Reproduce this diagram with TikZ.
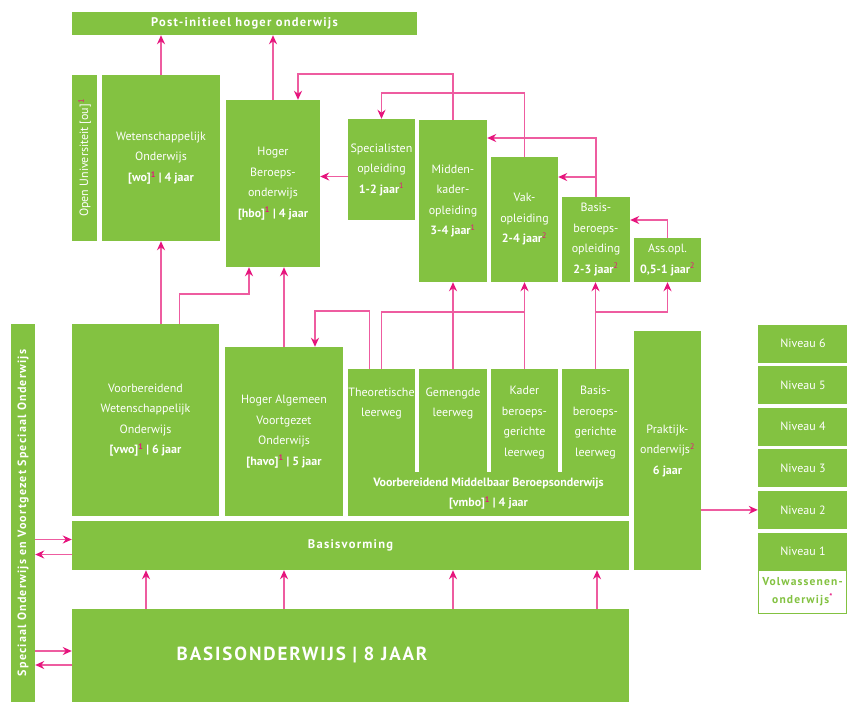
\documentclass[tikz,border=0pt]{standalone}
\usepackage{fontspec}
\usepackage{xcolor}
\usepackage{tikz}
\usetikzlibrary{arrows.meta}
\setmainfont{PT Sans}
\newfontfamily\spatie{PT Sans}[LetterSpace=10]
\definecolor{grn}{RGB}{131,194,65}
\definecolor{pk}{RGB}{238,92,160}
\definecolor{pkd}{RGB}{230,20,125}
\newcommand{\vn}[1]{\textsuperscript{\color{pkd}#1}}

\begin{document}
\begin{tikzpicture}[x=1pt, y=-1pt,
        blok/.style={fill=grn, text=white, align=center, inner sep=0pt, font=\fontsize{12}{20.5}\selectfont},
        kop/.style={text=white, align=center, font=\fontsize{12.5}{20}\selectfont\bfseries\spatie},
        lijn/.style={draw=pk, line width=1.8pt},
        pijl/.style={lijn, -{Stealth[length=9pt, width=8pt, color=pkd]}}]
        \useasboundingbox (0,0) rectangle (847,702);

        \node[blok, minimum width=345, minimum height=23, font=\fontsize{12.5}{20}\selectfont\bfseries\spatie] at (244.5,23.5) (post) {Post-initieel hoger onderwijs};
        \node[blok, minimum width=166, minimum height=25, rotate=90] at (84.5,158) (ou) {Open Universiteit [ou]\vn{1}};
        \node[blok, minimum width=118, minimum height=166] at (161,158) (wo) {Wetenschappelijk\\Onderwijs\\\textbf{[wo]\vn{1} | 4 jaar}};
        \node[blok, minimum width=94, minimum height=167] at (273,183.5) (hbo) {Hoger\\Beroeps-\\onderwijs\\\textbf{[hbo]\vn{1} | 4 jaar}};
        \node[blok, minimum width=67, minimum height=101] at (381.5,169.5) (spec) {Specialisten\\opleiding\\\textbf{1-2 jaar}\vn{1}};
        \node[blok, minimum width=68, minimum height=162] at (453,201) (mk) {Midden-\\kader-\\opleiding\\\textbf{3-4 jaar}\vn{1}};
        \node[blok, minimum width=67, minimum height=125] at (524.5,219.5) (vak) {Vak-\\opleiding\\\textbf{2-4 jaar}\vn{2}};
        \node[blok, minimum width=68, minimum height=85] at (596,239.5) (bbo) {Basis-\\beroeps-\\opleiding\\\textbf{2-3 jaar}\vn{2}};
        \node[blok, minimum width=67, minimum height=44] at (667.5,260) (ass) {Ass.opl.\\\textbf{0,5-1 jaar}\vn{2}};

        \node[blok, minimum width=147, minimum height=192] at (145.5,420) (vwo) {Voorbereidend\\Wetenschappelijk\\Onderwijs\\\textbf{[vwo]\vn{1} | 6 jaar}};
        \node[blok, minimum width=118, minimum height=169] at (284,431.5) (havo) {Hoger Algemeen\\Voortgezet\\Onderwijs\\\textbf{[havo]\vn{1} | 5 jaar}};
        \node[blok, minimum width=67, minimum height=107] at (381.5,422.5) (tl) {Theoretische\\leerweg\\~\\~};
        \node[blok, minimum width=68, minimum height=107] at (453,422.5) (gl) {Gemengde\\leerweg\\~\\~};
        \node[blok, minimum width=67, minimum height=107] at (524.5,422.5) (kl) {Kader\\beroeps-\\gerichte\\leerweg};
        \node[blok, minimum width=67, minimum height=107] at (595.5,422.5) (bl) {Basis-\\beroeps-\\gerichte\\leerweg};
        \node[blok, minimum width=281, minimum height=44, font=\fontsize{12}{20}\selectfont\bfseries] at (488.5,494) (vmbo) {Voorbereidend Middelbaar Beroepsonderwijs\\{}[vmbo]\vn{1} | 4 jaar};
        \node[blok, minimum width=67, minimum height=239] at (667.5,450.5) (pro) {Praktijk-\\onderwijs\vn{2}\\\textbf{6 jaar}};
        \node[blok, minimum width=557, minimum height=49] at (350.5,545.5) (bv) {};
        \node[kop] at (bv.center) {Basisvorming};
        \node[blok, minimum width=557, minimum height=93] at (350.5,655.5) (bao) {};
        \node[text=white, font=\fontsize{19}{20}\selectfont\bfseries\spatie] at (302,655) (baotekst) {BASISONDERWIJS | 8 JAAR};
        \node[blok, minimum width=378, minimum height=24, rotate=90, font=\fontsize{12}{19}\selectfont\bfseries\spatie] at (23,513) (so) {Speciaal Onderwijs en Voortgezet Speciaal Onderwijs};

        \foreach \n in {1,...,6}
            \node[blok, minimum width=90, minimum height=38] at (803,{551.5-41.6*(\n-1)}) (niv\n) {Niveau \n};
        \node[draw=grn, line width=1.5pt, fill=white, text=grn, align=center, inner sep=0pt, minimum width=88, minimum height=43, font=\fontsize{11.5}{18}\selectfont\bfseries\spatie] at (802.5,592) (vol) {Volwassenen-\\onderwijs\vn{*}};

        \draw[pijl] (wo.north) -- (wo.north |- post.south);
        \draw[pijl] (hbo.north) -- (hbo.north |- post.south);
        \draw[pijl] (wo.south |- vwo.north) -- (wo.south);
        \draw[pijl] ([xshift=34pt]vwo.north) -- ++(0,-30) -| ([xshift=-24pt]hbo.south);
        \draw[pijl] (havo.north) -- (havo.north |- hbo.south);
        \draw[pijl] ([yshift=-7pt]spec.west) -- ([yshift=-7pt]spec.west -| hbo.east);
        \draw[pijl] (mk.north) -- ++(0,-46) -| ([xshift=25pt]hbo.north);
        \draw[pijl] (vak.north) -- ++(0,-64) -| (spec.north);
        \draw[pijl] (bbo.north) |- ([yshift=63pt]mk.east);
        \draw[pijl] (bbo.north) |- ([yshift=42.5pt]vak.east);
        \draw[pijl] (ass.north) |- ([yshift=19.5pt]bbo.east);

        \draw[pijl] ([xshift=-12pt]tl.north) -- ++(0,-58) -| ([xshift=31pt]havo.north);
        \draw[lijn] (tl.north) |- ([yshift=57pt]kl.north);
        \draw[pijl] (gl.north) -- (gl.north |- mk.south);
        \draw[pijl] (kl.north) -- (kl.north |- vak.south);
        \draw[pijl] (bl.north) -- (bl.north |- bbo.south);
        \draw[pijl] ([yshift=57pt]bl.north) -| (ass.south);
        \draw[pijl] (pro.east |- niv2.west) -- (niv2.west);

        \foreach \x in {146,284,453,597}
            \draw[pijl] (bao.north -| \x,0) -- (bv.south -| \x,0);
        \draw[pijl] ([yshift=6pt]bv.west -| so.south) -- ([yshift=6pt]bv.west);
        \draw[pijl] ([yshift=-9pt]bv.west) -- ([yshift=-9pt]bv.west -| so.south);
        \draw[pijl] ([yshift=4.5pt]bao.west -| so.south) -- ([yshift=4.5pt]bao.west);
        \draw[pijl] ([yshift=-9.5pt]bao.west) -- ([yshift=-9.5pt]bao.west -| so.south);
\end{tikzpicture}
\end{document}
